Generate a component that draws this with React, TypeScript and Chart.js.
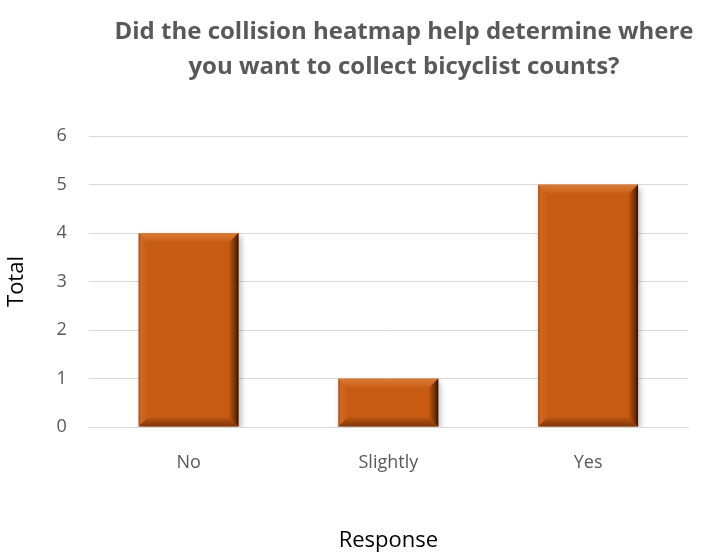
import React, { useEffect, useRef } from "react";
import { Chart, registerables } from "chart.js";

Chart.register(...registerables);

const titleLines = [
  "Did the collision heatmap help determine where",
  "you want to collect bicyclist counts?",
];
const categories = ["No", "Slightly", "Yes"];
const totals = [4, 1, 5];
const yTicks = [0, 1, 2, 3, 4, 5, 6];
const xAxisTitle = "Response";
const yAxisTitle = "Total";

const FONT = "'Open Sans', sans-serif";
const TEXT = "#595959";
const BAR = "#C85B12";

// Draws the two-line heading above the plot.
const headingPlugin = {
  id: "heading",
  afterDraw(chart: any) {
    const ctx = chart.ctx;
    ctx.save();
    ctx.fillStyle = TEXT;
    ctx.font = `bold 24px ${FONT}`;
    ctx.textAlign = "center";
    ctx.textBaseline = "middle";
    titleLines.forEach((line, i) => {
      ctx.fillText(line, 404, 32 + i * 35);
    });
    ctx.restore();
  },
};

// Soft drop shadow under the bars plus a bevelled edge on each bar.
const bevelPlugin = {
  id: "bevel",
  beforeDatasetsDraw(chart: any) {
    const ctx = chart.ctx;
    ctx.save();
    ctx.shadowColor = "rgba(0,0,0,0.28)";
    ctx.shadowBlur = 6;
    ctx.shadowOffsetX = 2;
    ctx.shadowOffsetY = 3;
  },
  afterDatasetsDraw(chart: any) {
    const ctx = chart.ctx;
    ctx.restore();
    const meta = chart.getDatasetMeta(0);
    meta.data.forEach((bar: any) => {
      const x0 = bar.x - bar.width / 2;
      const x1 = bar.x + bar.width / 2;
      const y0 = Math.min(bar.y, bar.base);
      const y1 = Math.max(bar.y, bar.base);
      const b = Math.min(9, (y1 - y0) / 2, (x1 - x0) / 2);
      ctx.save();
      // top
      let g = ctx.createLinearGradient(0, y0, 0, y0 + b);
      g.addColorStop(0, "rgba(255,200,150,0.3)");
      g.addColorStop(1, "rgba(255,200,150,0.04)");
      ctx.fillStyle = g;
      ctx.beginPath();
      ctx.moveTo(x0, y0);
      ctx.lineTo(x1, y0);
      ctx.lineTo(x1 - b, y0 + b);
      ctx.lineTo(x0 + b, y0 + b);
      ctx.closePath();
      ctx.fill();
      // left
      g = ctx.createLinearGradient(x0, 0, x0 + b, 0);
      g.addColorStop(0, "rgba(60,20,0,0.4)");
      g.addColorStop(0.3, "rgba(255,190,140,0.12)");
      g.addColorStop(1, "rgba(255,190,140,0.02)");
      ctx.fillStyle = g;
      ctx.beginPath();
      ctx.moveTo(x0, y0);
      ctx.lineTo(x0 + b, y0 + b);
      ctx.lineTo(x0 + b, y1 - b);
      ctx.lineTo(x0, y1);
      ctx.closePath();
      ctx.fill();
      // right
      g = ctx.createLinearGradient(x1 - b, 0, x1, 0);
      g.addColorStop(0, "rgba(40,10,0,0.1)");
      g.addColorStop(0.6, "rgba(40,10,0,0.5)");
      g.addColorStop(1, "rgba(20,5,0,0.85)");
      ctx.fillStyle = g;
      ctx.beginPath();
      ctx.moveTo(x1, y0);
      ctx.lineTo(x1, y1);
      ctx.lineTo(x1 - b, y1 - b);
      ctx.lineTo(x1 - b, y0 + b);
      ctx.closePath();
      ctx.fill();
      // bottom
      g = ctx.createLinearGradient(0, y1 - b, 0, y1);
      g.addColorStop(0, "rgba(40,10,0,0.08)");
      g.addColorStop(1, "rgba(40,10,0,0.45)");
      ctx.fillStyle = g;
      ctx.beginPath();
      ctx.moveTo(x0, y1);
      ctx.lineTo(x1, y1);
      ctx.lineTo(x1 - b, y1 - b);
      ctx.lineTo(x0 + b, y1 - b);
      ctx.closePath();
      ctx.fill();
      ctx.restore();
    });
  },
};

export default function App() {
  const ref = useRef<HTMLCanvasElement>(null);

  useEffect(() => {
    if (!ref.current) return;
    const chart = new Chart(ref.current, {
      type: "bar",
      data: {
        labels: categories,
        datasets: [
          {
            data: totals,
            backgroundColor: BAR,
            borderWidth: 0,
            barPercentage: 0.5,
            categoryPercentage: 1,
          },
        ],
      },
      options: {
        animation: false,
        responsive: false,
        layout: { padding: { top: 136, right: 20, left: 4, bottom: 4 } },
        plugins: {
          legend: { display: false },
          tooltip: { enabled: false },
        },
        scales: {
          x: {
            grid: { display: false },
            border: { display: true, color: "#d9d9d9", width: 1 },
            ticks: {
              color: TEXT,
              font: { family: FONT, size: 18 },
              padding: 17,
            },
            title: {
              display: true,
              text: xAxisTitle,
              color: "#000",
              font: { family: FONT, size: 22 },
              padding: { top: 37, bottom: 0 },
            },
          },
          y: {
            min: 0,
            max: 6,
            afterBuildTicks(scale: any) {
              scale.ticks = yTicks.map((v) => ({ value: v }));
            },
            grid: { color: "#d9d9d9", drawTicks: false },
            border: { display: false },
            ticks: {
              color: TEXT,
              font: { family: FONT, size: 18 },
              padding: 22,
            },
            title: {
              display: true,
              text: yAxisTitle,
              color: "#000",
              font: { family: FONT, size: 22 },
              padding: { top: 0, bottom: 4 },
            },
          },
        },
      },
      plugins: [headingPlugin, bevelPlugin],
    });
    return () => chart.destroy();
  }, []);

  return (
    <div style={{ position: "fixed", left: 0, top: 0, width: 708, height: 558, background: "#fff" }}>
      <canvas ref={ref} width={708} height={558} />
    </div>
  );
}
